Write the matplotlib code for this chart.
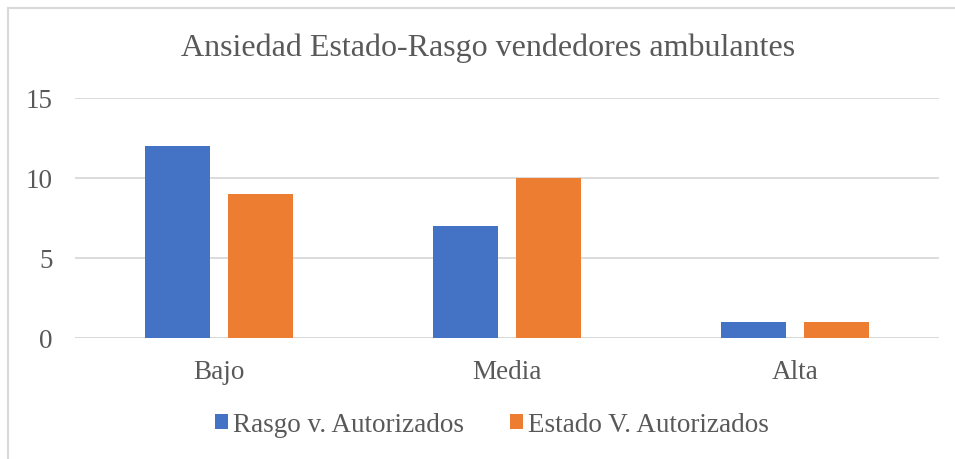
import matplotlib
matplotlib.use("Agg")
import matplotlib.pyplot as plt
import numpy as np
from matplotlib.lines import Line2D

categories = ["Bajo", "Media", "Alta"]
rasgo = [12, 7, 1]
estado = [9, 10, 1]
series_names = ["Rasgo v. Autorizados", "Estado V. Autorizados"]
yticks = [0, 5, 10, 15]

plt.rcParams['font.family'] = ['Liberation Serif', 'DejaVu Serif']
grey = "#595959"
blue = "#4472C4"
orange = "#ED7D31"

fig = plt.figure(figsize=(9.55, 4.59), dpi=100)
fig.patch.set_facecolor("white")
# partial border (top and left visible)
fig.add_artist(Line2D([8/955, 8/955], [0, 1 - 8/459], transform=fig.transFigure, color="#D9D9D9", lw=1.5))
fig.add_artist(Line2D([8/955, 1], [1 - 8/459, 1 - 8/459], transform=fig.transFigure, color="#D9D9D9", lw=1.5))

ax = fig.add_axes([75/955, 121/459, 864/955, 240/459])
x = np.arange(len(categories))
w = 0.2257
ax.bar(x - 0.1425, rasgo, width=w, color=blue, label=series_names[0], zorder=3)
ax.bar(x + 0.1425, estado, width=w, color=orange, label=series_names[1], zorder=3)

ax.set_xlim(-0.5, 2.5)
ax.set_ylim(0, 15)
ax.set_yticks(yticks)
ax.set_xticks(x)
ax.set_xticklabels(categories)
ax.grid(axis='y', color="#D9D9D9", lw=1.3, zorder=0)
for s in ax.spines.values():
    s.set_visible(False)
ax.axhline(0, color="#D9D9D9", lw=1.3, zorder=2)
ax.tick_params(axis='both', length=0, labelsize=19.5, colors=grey)
ax.tick_params(axis='y', pad=16)
ax.tick_params(axis='x', pad=16)

fig.text(488/955, 1 - 48/459, "Ansiedad Estado-Rasgo vendedores ambulantes",
         ha='center', va='center', fontsize=23, color=grey)

leg = fig.legend(loc='center', bbox_to_anchor=(492/955, 1 - 425/459), ncol=2,
                 frameon=False, fontsize=19.5, handlelength=0.48, handleheight=0.48,
                 handletextpad=0.2, columnspacing=1.7, labelcolor=grey)

fig.savefig("out.png", dpi=100)
